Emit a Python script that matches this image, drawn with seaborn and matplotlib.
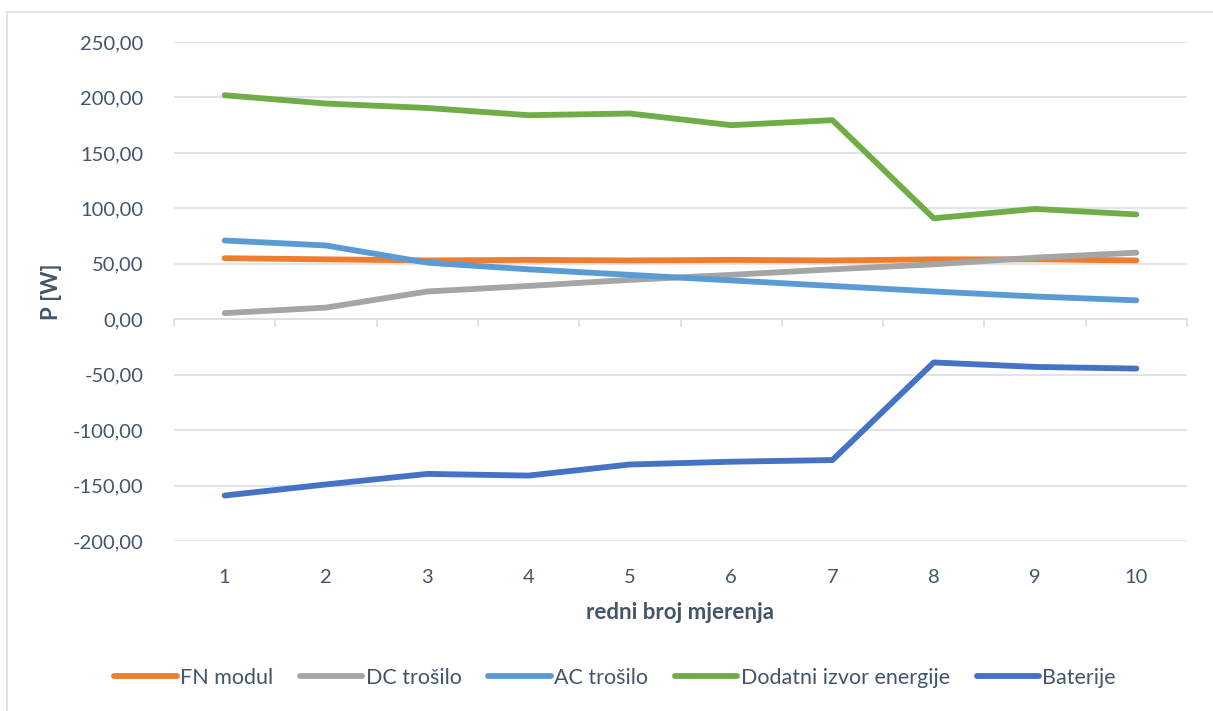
import numpy as np
import pandas as pd
import matplotlib
matplotlib.use("Agg")
import matplotlib.pyplot as plt
import seaborn as sns
from matplotlib.patches import Rectangle
from matplotlib.ticker import FuncFormatter

# Mjerenja (redni broj)
mjerenje = [1, 2, 3, 4, 5, 6, 7, 8, 9, 10]

# Snage u W, ocitane s grafa
fn_modul = [55, 54, 53, 53.5, 53, 53.5, 53, 54, 54, 53]
dc_trosilo = [5.5, 10.5, 25, 30, 35.5, 40, 45, 49.5, 55.5, 60]
ac_trosilo = [71, 66.5, 51, 45, 40, 35, 30, 25, 20.5, 17]
dodatni_izvor = [202, 194.5, 190.5, 184, 185.5, 175, 179.5, 91, 99.5, 94.5]
baterije = [-159, -149, -139.5, -141, -131, -128.5, -127, -39, -43, -44.5]

serije = ["FN modul", "DC trošilo", "AC trošilo", "Dodatni izvor energije", "Baterije"]
boje = ["#ED7D31", "#A5A5A5", "#5B9BD5", "#70AD47", "#4472C4"]

df = pd.DataFrame({
    "mjerenje": mjerenje * 5,
    "P": fn_modul + dc_trosilo + ac_trosilo + dodatni_izvor + baterije,
    "serija": sum([[s] * len(mjerenje) for s in serije], []),
})

sns.set_style("white")
plt.rcParams["font.family"] = ["Lato", "DejaVu Sans"]
txt = "#44546A"
grid_c = "#DDE1E8"

fig = plt.figure(figsize=(12.13, 7.11), dpi=100)
ax = fig.add_axes([174 / 1213, 1 - 541 / 711, (1187 - 174) / 1213, (541 - 42) / 711])

sns.lineplot(data=df, x="mjerenje", y="P", hue="serija", hue_order=serije,
             palette=boje, linewidth=4.2, ax=ax, legend=False,
             solid_capstyle="round")

ax.set_xlim(0.5, 10.5)
ax.set_ylim(-200, 250)
ax.set_yticks(np.arange(-200, 251, 50))
ax.set_xticks(mjerenje)
ax.yaxis.set_major_formatter(FuncFormatter(lambda v, p: f"{v:.2f}".replace(".", ",")))
ax.tick_params(axis="both", length=0, labelsize=14.5, labelcolor=txt)
ax.tick_params(axis="y", pad=22)
ax.tick_params(axis="x", pad=20)
ax.grid(axis="y", color=grid_c, linewidth=1.3)
ax.set_axisbelow(True)
for s in ax.spines.values():
    s.set_visible(False)

# os x prolazi kroz 0 s kvacicama izmedu kategorija
sec = ax.secondary_xaxis(200 / 450)
sec.set_xticks(np.arange(0.5, 11, 1))
sec.tick_params(axis="x", length=6, width=1.3, color=grid_c, labelbottom=False,
                labeltop=False, direction="out")
sec.spines["bottom"].set_color(grid_c)
sec.spines["bottom"].set_linewidth(1.3)
sec.xaxis.set_ticks_position("bottom")
sec.tick_params(labelbottom=False)

ax.set_xlabel("redni broj mjerenja", fontsize=16, fontweight="bold", color=txt, labelpad=12)
ax.set_ylabel("P [W]", fontsize=16, fontweight="bold", color=txt, labelpad=8)

handles = [plt.Line2D([], [], color=c, linewidth=4.2, solid_capstyle="round") for c in boje]
fig.legend(handles, serije, loc="center", bbox_to_anchor=(0.507, 1 - 678 / 711), ncol=5,
           frameon=False, fontsize=15.5, labelcolor=txt, handlelength=2.9,
           handletextpad=0.15, columnspacing=1.25)

fig.add_artist(Rectangle((7 / 1213, -0.1), 1.2, 1 - 12 / 711 + 0.1, transform=fig.transFigure,
                         fill=False, edgecolor=grid_c, linewidth=1.3))

fig.savefig("out.png", dpi=100)
